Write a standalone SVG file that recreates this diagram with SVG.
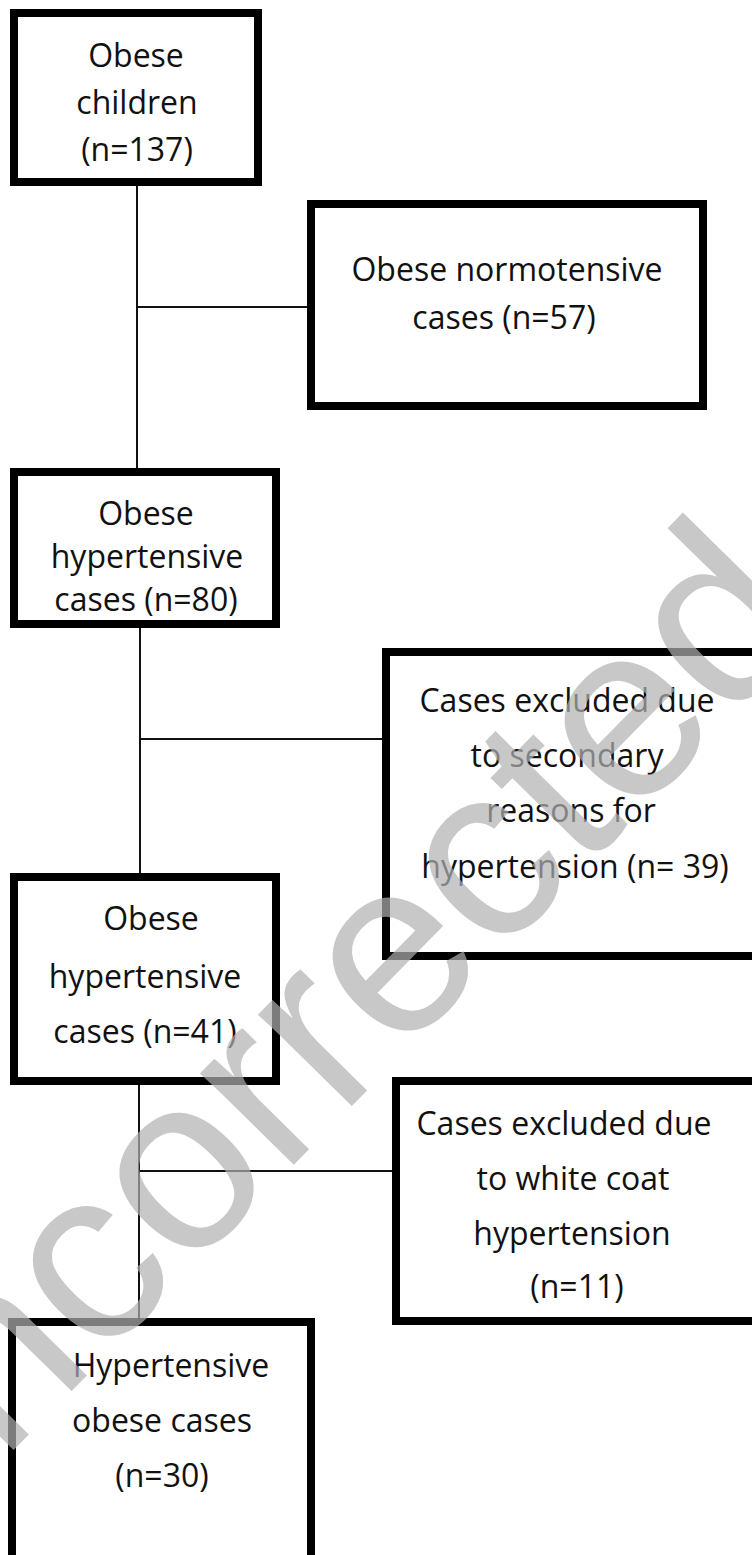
<svg xmlns="http://www.w3.org/2000/svg" width="752" height="1555" viewBox="0 0 752 1555">
  <style>
    .box { fill: #ffffff; stroke: #000000; stroke-width: 8; }
    .lbl { font-family: "Open Sans", "Liberation Sans", sans-serif; font-size: 32px; fill: #111111; text-anchor: middle; }
    .conn line { stroke: #111111; stroke-width: 2; }
    .wm { font-family: "Liberation Sans", Arial, sans-serif; font-size: 248px; fill: #b0b0b0; fill-opacity: 0.7; }
  </style>
  <rect width="752" height="1555" fill="#ffffff"/>
  <g id="connectors" class="conn">
    <line x1="137" y1="186" x2="137" y2="468"/>
    <line x1="137" y1="307" x2="307" y2="307"/>
    <line x1="140" y1="628" x2="140" y2="873"/>
    <line x1="140" y1="739" x2="382" y2="739"/>
    <line x1="139" y1="1085" x2="139" y2="1318"/>
    <line x1="139" y1="1171" x2="392" y2="1171"/>
  </g>
  <g id="node-obese-children">
    <rect class="box" x="14" y="13" width="244" height="169"/>
    <text class="lbl" x="136" y="67">Obese</text>
    <text class="lbl" x="137" y="114">children</text>
    <text class="lbl" x="137" y="161">(n=137)</text>
  </g>
  <g id="node-normotensive">
    <rect class="box" x="311" y="204" width="392" height="202"/>
    <text class="lbl" x="507" y="281">Obese normotensive</text>
    <text class="lbl" x="504" y="329">cases (n=57)</text>
  </g>
  <g id="node-hypertensive-80">
    <rect class="box" x="14" y="472" width="262" height="152"/>
    <text class="lbl" x="146" y="525">Obese</text>
    <text class="lbl" x="147" y="568">hypertensive</text>
    <text class="lbl" x="146" y="611">cases (n=80)</text>
  </g>
  <g id="node-excluded-secondary">
    <rect class="box" x="386" y="652" width="400" height="304"/>
    <text class="lbl" x="567" y="712">Cases excluded due</text>
    <text class="lbl" x="567" y="767">to secondary</text>
    <text class="lbl" x="571" y="822">reasons for</text>
    <text class="lbl" x="575" y="878">hypertension (n= 39)</text>
  </g>
  <g id="node-hypertensive-41">
    <rect class="box" x="14" y="877" width="262" height="204"/>
    <text class="lbl" x="151" y="930">Obese</text>
    <text class="lbl" x="145" y="988">hypertensive</text>
    <text class="lbl" x="145" y="1043">cases (n=41)</text>
  </g>
  <g id="node-excluded-whitecoat">
    <rect class="box" x="396" y="1081" width="400" height="240"/>
    <text class="lbl" x="564" y="1135">Cases excluded due</text>
    <text class="lbl" x="573" y="1190">to white coat</text>
    <text class="lbl" x="572" y="1245">hypertension</text>
    <text class="lbl" x="577" y="1298">(n=11)</text>
  </g>
  <g id="node-final">
    <rect class="box" x="12" y="1322" width="299" height="300"/>
    <text class="lbl" x="171" y="1377">Hypertensive</text>
    <text class="lbl" x="162" y="1432">obese cases</text>
    <text class="lbl" x="162" y="1487">(n=30)</text>
  </g>
  <g id="watermark">
    <text class="wm" transform="translate(-124 1590) rotate(-45.5)">Uncorrected</text>
  </g>
</svg>
